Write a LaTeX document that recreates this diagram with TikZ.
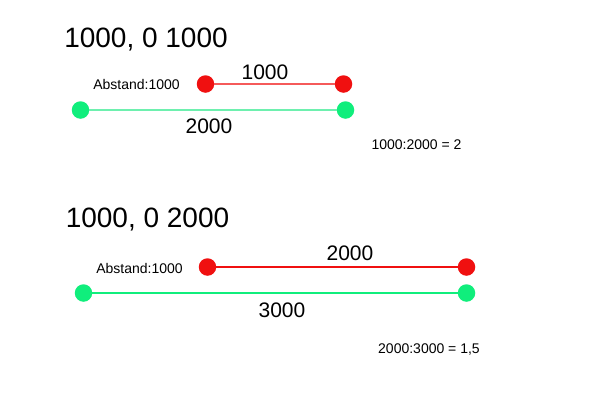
\documentclass[tikz,border=0pt]{standalone}
\usepackage{fontspec}
\setmainfont{Liberation Sans}
\definecolor{dotred}{RGB}{240,16,16}
\definecolor{dotgreen}{RGB}{16,238,124}
\definecolor{linered}{RGB}{245,90,90}
\definecolor{linegreen}{RGB}{110,240,175}
\begin{document}
\begin{tikzpicture}[x=1pt,y=-1pt,
  rdot/.style={circle,fill=dotred,inner sep=0pt,minimum size=17.5pt},
  gdot/.style={circle,fill=dotgreen,inner sep=0pt,minimum size=17.5pt},
  title/.style={inner sep=0pt,font=\fontsize{28}{32}\selectfont},
  big/.style={inner sep=0pt,font=\fontsize{21}{24}\selectfont},
  small/.style={inner sep=0pt,font=\fontsize{14}{16}\selectfont},
  rline/.style={draw=dotred,line width=1.1pt},
  gline/.style={draw=dotgreen,line width=1.3pt},
  rlineA/.style={draw=linered,line width=1.6pt},
  glineA/.style={draw=linegreen,line width=2pt}]
\useasboundingbox[fill=white] (0,0) rectangle (600,400);
% top block
\node[title] (t1) at (146,40) {1000, 0 1000};
\node[rdot] (r1a) at (205.5,84) {};
\node[rdot] (r1b) at (343.5,84) {};
\node[gdot] (g1a) at (80.5,110) {};
\node[gdot] (g1b) at (345.5,110) {};
\draw[rlineA] (r1a) -- (r1b);
\draw[glineA] (g1a) -- (g1b);
\node[big] (l1a) at (265,72) {1000};
\node[small] (ab1) at (136.5,84) {Abstand:1000};
\node[big] (l1b) at (209,126) {2000};
\node[small] (q1) at (416.5,145) {1000:2000 = 2};
% bottom block
\node[title] (t2) at (147.5,220) {1000, 0 2000};
\node[rdot] (r2a) at (207.5,267) {};
\node[rdot] (r2b) at (466.5,267) {};
\node[gdot] (g2a) at (83.5,293) {};
\node[gdot] (g2b) at (466.5,293) {};
\draw[rline] (r2a) -- (r2b);
\draw[gline] (g2a) -- (g2b);
\node[big] (l2a) at (350,253) {2000};
\node[small] (ab2) at (139.5,268) {Abstand:1000};
\node[big] (l2b) at (282,310) {3000};
\node[small] (q2) at (429,350) {2000:3000 = 1,5};
\end{tikzpicture}
\end{document}
